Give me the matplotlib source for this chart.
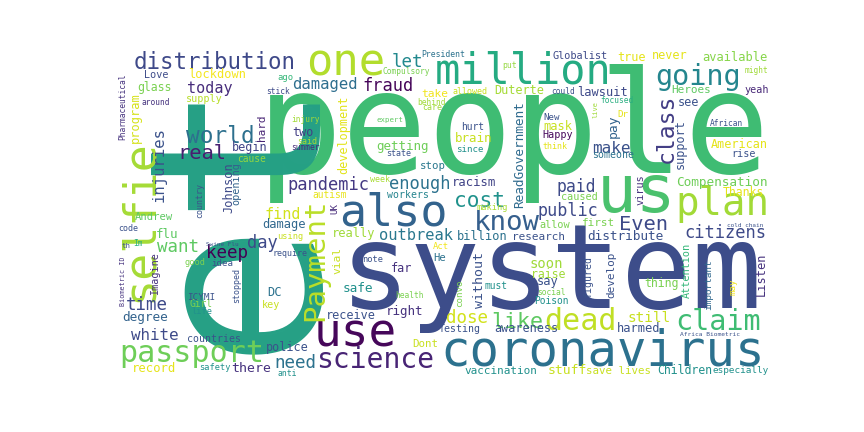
import matplotlib
matplotlib.use("Agg")
import matplotlib.pyplot as plt

# word cloud: words and their relative weights (1.0 = biggest word)
words = ["people", "et", "system", "coronavirus", "us", "also", "use", "selfie", "one", "million",
         "plan", "passport", "dead", "Payment", "going", "claim", "science", "know", "class", "world",
         "distribution", "like", "cost", "real", "Even", "let", "want", "time", "keep", "need",
         "dose", "pandemic", "fraud", "enough", "day", "citizens", "public", "paid", "make", "white",
         "injuries", "damaged", "outbreak", "find", "today", "still", "soon", "without", "there", "stuff",
         "pay", "ReadGovernment", "Compensation", "distribute", "degree", "safe", "brain", "flu", "getting", "right",
         "racism", "record", "lockdown", "available", "lawsuit", "mask", "DC", "damage", "really", "billion",
         "say", "harmed", "program", "Listen", "Johnson", "two", "far", "see", "begin", "Duterte",
         "true", "never", "American", "police", "receive", "awareness", "development", "support", "glass", "Children",
         "Thanks", "raise", "thing", "take", "vial", "research", "vaccination", "first", "Heroes", "develop",
         "hard", "Dont", "stop", "save lives", "Andrew", "He", "Attention", "allow", "virus", "Globalist",
         "Love", "supply", "Happy", "yeah", "rise", "caused", "key", "Imagine", "opening", "workers",
         "someone", "countries", "Testing", "figured", "autism", "Poison", "cause", "hurt", "Girl", "must",
         "important", "ICYMI", "especially", "idea", "since", "New", "Dr", "UK", "may", "convo",
         "ago", "Act", "life", "good", "note", "making", "safety", "using", "country", "stopped",
         "said", "care", "state", "week", "think", "code", "require", "allowed", "anti", "put",
         "President", "injury", "stick", "around", "Compulsory", "could", "behind", "might", "focused", "African",
         "Im", "health", "social", "Pharmaceutical", "summer", "expert", "th", "live", "Biometric ID", "Africa Biometric",
         "cold chain", "Swine Flu"]

weights = [0.592, 1.000, 0.488, 0.204, 0.275, 0.188, 0.192, 0.188, 0.183, 0.175,
           0.163, 0.125, 0.125, 0.121, 0.119, 0.119, 0.117, 0.114, 0.096, 0.095,
           0.094, 0.090, 0.088, 0.085, 0.085, 0.073, 0.073, 0.073, 0.073, 0.073,
           0.073, 0.071, 0.071, 0.071, 0.071, 0.071, 0.070, 0.069, 0.067, 0.066,
           0.065, 0.065, 0.064, 0.063, 0.063, 0.060, 0.058, 0.055, 0.055, 0.054,
           0.054, 0.053, 0.053, 0.053, 0.053, 0.053, 0.052, 0.052, 0.052, 0.052,
           0.051, 0.051, 0.050, 0.050, 0.050, 0.050, 0.050, 0.050, 0.050, 0.050,
           0.050, 0.050, 0.050, 0.050, 0.050, 0.049, 0.049, 0.049, 0.049, 0.049,
           0.049, 0.049, 0.049, 0.049, 0.049, 0.049, 0.049, 0.049, 0.048, 0.048,
           0.048, 0.048, 0.048, 0.047, 0.047, 0.046, 0.046, 0.046, 0.046, 0.046,
           0.046, 0.045, 0.045, 0.045, 0.044, 0.044, 0.043, 0.043, 0.043, 0.043,
           0.042, 0.042, 0.042, 0.042, 0.042, 0.042, 0.042, 0.042, 0.042, 0.041,
           0.041, 0.041, 0.041, 0.041, 0.040, 0.040, 0.040, 0.040, 0.040, 0.040,
           0.039, 0.039, 0.039, 0.038, 0.038, 0.038, 0.038, 0.038, 0.038, 0.038,
           0.037, 0.037, 0.036, 0.036, 0.036, 0.036, 0.036, 0.036, 0.035, 0.035,
           0.035, 0.035, 0.035, 0.035, 0.035, 0.035, 0.035, 0.035, 0.034, 0.034,
           0.034, 0.033, 0.033, 0.033, 0.033, 0.033, 0.033, 0.033, 0.033, 0.033,
           0.033, 0.033, 0.033, 0.033, 0.033, 0.031, 0.031, 0.029, 0.028, 0.026,
           0.025, 0.025]

# layout of the cloud (pixel position, vertical flag, colour from viridis)
# horizontal words: (centre x, baseline y); vertical words: (baseline x, centre y)
layout = {
    "people": (514, 173, 0, "#3fbc73"), "et": (307, 210, 1, "#25a085"),
    "system": (551, 308, 0, "#3d4d8a"), "coronavirus": (603, 365, 0, "#2c718e"),
    "us": (636.5, 212, 0, "#4ac16d"), "also": (393.5, 225, 0, "#33638d"),
    "use": (355.5, 346.5, 0, "#46075a"), "selfie": (152, 221, 1, "#a5db36"),
    "one": (345.5, 76, 0, "#b2dd2d"), "million": (523.5, 83, 0, "#25ab82"),
    "plan": (722, 215, 0, "#a2da37"), "passport": (192, 361.5, 0, "#6ece58"),
    "dead": (580, 330.5, 0, "#c0df25"), "Payment": (323, 260, 1, "#bade28"),
    "going": (698.5, 85, 0, "#24868e"), "claim": (718.5, 330, 0, "#3fbc73"),
    "science": (375.5, 368, 0, "#482475"), "know": (506.5, 230.5, 0, "#355f8d"),
    "class": (673, 128.5, 1, "#433e85"), "world": (220, 143, 0, "#2d708e"),
    "distribution": (215, 69, 0, "#3e4989"), "like": (517, 327.5, 0, "#5ec962"),
    "cost": (479, 207, 0, "#20928c"), "real": (201.5, 159, 0, "#481f70"),
    "Even": (643.5, 230, 0, "#3e4a89"), "let": (407, 67, 0, "#23898e"),
    "want": (178, 252, 0, "#5ec962"), "time": (147, 310.5, 0, "#3e4a89"),
    "keep": (227, 258, 0, "#440154"), "need": (295, 368, 0, "#2c728e"),
    "dose": (467, 323, 0, "#d2e21b"), "pandemic": (328, 190, 0, "#443983"),
    "fraud": (387.5, 91, 0, "#450559"), "enough": (420, 189, 0, "#2c728e"),
    "day": (262.5, 247.5, 0, "#3e4a89"), "citizens": (725, 238, 0, "#3e4a89"),
    "public": (567.5, 216.5, 0, "#3e4a89"), "paid": (576, 192, 0, "#3e4a89"),
    "make": (611.5, 153, 0, "#3b528b"), "white": (155, 340.5, 0, "#3e4a89"),
    "injuries": (163.5, 165, 1, "#3b528b"), "damaged": (325, 89, 0, "#2e6e8e"),
    "outbreak": (416, 240, 0, "#2a788e"), "find": (282.5, 219, 0, "#d2e21b"),
    "today": (210, 93, 0, "#472d7b"), "still": (649, 321.5, 0, "#c8e020"),
    "soon": (546, 268, 0, "#a0da39"), "without": (483, 280, 1, "#3b528b"),
    "there": (251, 371.5, 0, "#46327e"), "stuff": (567.5, 374, 0, "#c8e020"),
    "pay": (617, 126, 1, "#33638d"), "ReadGovernment": (523, 154.5, 1, "#2f6b8e"),
    "Compensation": (722, 186, 0, "#6ece58"), "distribute": (625.5, 240, 0, "#3b528b"),
    "degree": (145, 320.5, 0, "#33638d"), "safe": (357.5, 292, 0, "#21918c"),
    "brain": (473.5, 142.5, 0, "#c8e020"), "flu": (167.5, 237.5, 0, "#5ec962"),
    "getting": (402.5, 150, 0, "#6ece58"), "right": (405, 315, 0, "#46327e"),
    "racism": (473.5, 186.5, 0, "#414487"), "record": (153.5, 371.5, 0, "#e5e419"),
    "lockdown": (217.5, 78, 0, "#f4e61e"), "available": (735, 61, 0, "#86d549"),
    "lawsuit": (602.5, 96, 0, "#3e4a89"), "mask": (558, 130, 0, "#c8e020"),
    "DC": (274.5, 295.5, 0, "#2c728e"), "damage": (284, 228, 0, "#31688e"),
    "really": (354, 236.5, 0, "#a0da39"), "billion": (482.5, 240, 0, "#2c728e"),
    "say": (547.5, 285, 0, "#3b528b"), "harmed": (639, 332.5, 0, "#3b528b"),
    "program": (139, 117.5, 1, "#d5e21a"), "Listen": (765, 274, 1, "#46327e"),
    "Johnson": (232, 187.5, 1, "#3e4a89"), "two": (303, 136, 0, "#433e85"),
    "far": (402, 272.5, 0, "#46327e"), "see": (688, 106, 0, "#3b528b"),
    "begin": (250, 151, 0, "#414487"), "Duterte": (519, 94, 0, "#a5db36"),
    "true": (631.5, 61, 0, "#e5e419"), "never": (670, 59, 0, "#e5e419"),
    "American": (739.5, 148, 0, "#e5e419"), "police": (287.5, 350.5, 0, "#3b528b"),
    "receive": (351, 319, 0, "#3b528b"), "awareness": (526, 332, 0, "#3b528b"),
    "development": (347, 135, 1, "#e2e418"), "support": (684, 144, 1, "#3b528b"),
    "glass": (154.5, 91, 0, "#7ad151"), "Children": (685, 374, 0, "#21918c"),
    "Thanks": (743, 196.5, 0, "#e5e419"), "raise": (548.5, 277.5, 0, "#a0da39"),
    "thing": (661.5, 287, 0, "#7ad151"), "take": (435, 97, 0, "#f1e51d"),
    "vial": (340, 260, 1, "#c8e020"), "research": (539, 240, 0, "#3b528b"),
    "vaccination": (501, 374, 0, "#21918c"), "first": (599, 225.5, 0, "#7ad151"),
    "Heroes": (691, 93, 0, "#5ec962"), "develop": (614, 274.5, 1, "#3b528b"),
    "hard": (265, 127.5, 1, "#482475"), "Dont": (425.5, 347, 0, "#c8e020"),
    "stop": (432.5, 169, 0, "#2a788e"), "save lives": (618.5, 374, 0, "#c8e020"),
    "Andrew": (153.5, 220, 0, "#5ec962"), "He": (440, 261, 0, "#2c728e"),
    "Attention": (690, 270.5, 1, "#35b779"), "allow": (555, 228, 0, "#7ad151"),
    "virus": (643, 190, 1, "#46327e"), "Globalist": (580, 59, 0, "#3e4a89"),
    "Love": (156, 78, 0, "#3e4c8a"), "supply": (204.5, 101.5, 0, "#b8de29"),
    "Happy": (557.5, 138.5, 0, "#46085c"), "yeah": (756.5, 93, 0, "#482878"),
    "rise": (743.5, 157, 0, "#3b528b"), "caused": (579.5, 200.5, 0, "#7ad151"),
    "key": (271.5, 308, 0, "#c8e020"), "Imagine": (158, 274, 1, "#46327e"),
    "opening": (239, 184, 1, "#33638d"), "workers": (408, 198, 0, "#25848e"),
    "someone": (613, 158.5, 0, "#2c728e"), "countries": (214, 341.5, 0, "#3b528b"),
    "Testing": (460, 331.5, 0, "#3b528b"), "figured": (591, 277, 1, "#3b528b"),
    "autism": (330, 198, 0, "#e7e419"), "Poison": (551, 304, 0, "#21918c"),
    "cause": (251.5, 162.5, 0, "#93d741"), "hurt": (472.5, 130, 0, "#3b528b"),
    "Girl": (201, 307, 0, "#7ad151"), "must": (496, 289, 0, "#21918c"),
    "important": (711, 285, 1, "#31688e"), "ICYMI": (201.5, 300.5, 0, "#3b528b"),
    "especially": (740.5, 373, 0, "#21918c"), "idea": (222.5, 266, 0, "#3b528b"),
    "since": (470, 152, 0, "#21918c"), "New": (552, 120, 0, "#3b528b"),
    "Dr": (623, 117, 0, "#e5e419"), "UK": (337, 208.5, 1, "#472c7a"),
    "may": (735, 286.5, 1, "#f1e51d"), "convo": (462, 293.5, 1, "#7ad151"),
    "ago": (285.5, 80, 0, "#35b779"), "Act": (440.5, 249, 0, "#f1e51d"),
    "life": (202, 314, 0, "#21918c"), "good": (195, 265, 0, "#7ad151"),
    "note": (373, 262.5, 0, "#3b528b"), "making": (492, 210.5, 0, "#a8db34"),
    "safety": (215, 370.5, 0, "#21918c"), "using": (290.5, 239, 0, "#c8e020"),
    "country": (202, 200.5, 1, "#3b528b"), "stopped": (239, 285.5, 1, "#3b528b"),
    "said": (307.5, 144, 0, "#a8db34"), "care": (432, 110.5, 0, "#a0da39"),
    "state": (399, 155.5, 0, "#3b528b"), "week": (379.5, 182, 0, "#a8db34"),
    "think": (555, 149, 0, "#e5e419"), "code": (128.5, 231, 0, "#3b528b"),
    "require": (290, 255.5, 0, "#3b528b"), "allowed": (470, 94.5, 0, "#c8e020"),
    "anti": (287.5, 375.5, 0, "#21918c"), "put": (510, 68, 0, "#95d840"),
    "President": (443.5, 57, 0, "#2c728e"), "injury": (305.5, 122.5, 0, "#a2da37"),
    "stick": (278.5, 94, 0, "#3e4a89"), "around": (156, 105, 0, "#46337f"),
    "Compulsory": (406.5, 74, 0, "#7ad151"), "could": (563.5, 94, 0, "#3b528b"),
    "behind": (431, 105, 0, "#a0da39"), "might": (756.5, 73, 0, "#a0da39"),
    "focused": (616.5, 103, 0, "#28ae80"), "African": (726.5, 126, 0, "#3b528b"),
    "Im": (138, 245.5, 0, "#28ae80"), "health": (409, 298, 0, "#7ad151"),
    "social": (551, 295, 0, "#7ad151"), "Pharmaceutical": (125, 106.5, 1, "#46337f"),
    "summer": (305.5, 150.5, 0, "#472d7b"), "expert": (390, 122, 0, "#5ec962"),
    "th": (126, 248, 0, "#3b528b"), "live": (598, 110, 1, "#a0da39"),
    "Biometric ID": (125, 281, 1, "#46337f"), "Africa Biometric": (710, 336, 0, "#3b528b"),
    "cold chain": (745, 227, 0, "#3b528b"), "Swine Flu": (222.5, 246, 0, "#3b528b"),
}

W, H, DPI = 864, 432, 100
MAX_EM = 240  # pixel em size of the biggest word

fig = plt.figure(figsize=(W / DPI, H / DPI), dpi=DPI)
ax = fig.add_axes([0, 0, 1, 1])
ax.set_xlim(0, W)
ax.set_ylim(H, 0)
ax.axis("off")

for w, wt in zip(words, weights):
    x, y, vert, col = layout[w]
    fs = wt * MAX_EM * 72 / DPI
    ax.text(x, y, w, fontsize=fs, family="DejaVu Sans Mono", color=col,
            rotation=90 if vert else 0, rotation_mode="anchor",
            ha="center", va="baseline")

fig.savefig("out.png", dpi=DPI, facecolor="white")
